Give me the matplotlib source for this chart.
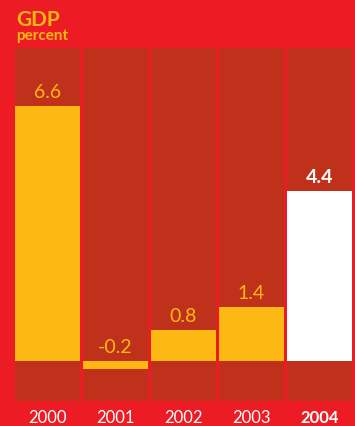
import matplotlib
matplotlib.use("Agg")
import matplotlib.pyplot as plt

years = ["2000", "2001", "2002", "2003", "2004"]
gdp = [6.6, -0.2, 0.8, 1.4, 4.4]
value_labels = ["6.6", "-0.2", "0.8", "1.4", "4.4"]

RED = "#ED1C24"
DARK = "#C0311C"
YELLOW = "#FDB813"
WHITE = "#FFFFFF"

plt.rcParams["font.family"] = ["Lato", "DejaVu Sans"]

fig = plt.figure(figsize=(3.55, 4.27), dpi=100, facecolor=RED)
ax = fig.add_axes([15 / 355, 25 / 427, 337 / 355, 353 / 427])
ax.set_facecolor(RED)

ymin, ymax = -1.04, 8.11
half = 65 / 136
x = list(range(len(years)))

# background columns
ax.bar(x, [ymax - ymin] * len(x), bottom=ymin, width=2 * half, color=DARK, linewidth=0)

# value bars
colors = [YELLOW] * (len(gdp) - 1) + [WHITE]
ax.bar(x, gdp, width=2 * half, color=colors, linewidth=0)

for i, (v, lab) in enumerate(zip(gdp, value_labels)):
    last = i == len(gdp) - 1
    ax.annotate(lab, xy=(i, max(v, 0)), xytext=(0, 4.5), textcoords="offset points",
                ha="center", va="bottom", fontsize=14,
                color=WHITE if last else YELLOW,
                fontweight="bold" if last else "normal")
    ax.annotate(years[i], xy=(i, 0), xycoords=("data", "axes fraction"),
                xytext=(0, -15), textcoords="offset points",
                ha="center", va="baseline", fontsize=12, color=WHITE,
                fontweight="bold" if last else "normal")

ax.set_xlim(-half, len(x) - 1 + half)
ax.set_ylim(ymin, ymax)
ax.axis("off")

fig.text(16 / 355, 1 - 26 / 427, "GDP", color=YELLOW, fontsize=15, fontweight="bold",
         ha="left", va="baseline")
fig.text(16 / 355, 1 - 40 / 427, "percent", color=YELLOW, fontsize=11, fontweight="bold",
         ha="left", va="baseline")

fig.savefig("out.png", dpi=100, facecolor=RED)
